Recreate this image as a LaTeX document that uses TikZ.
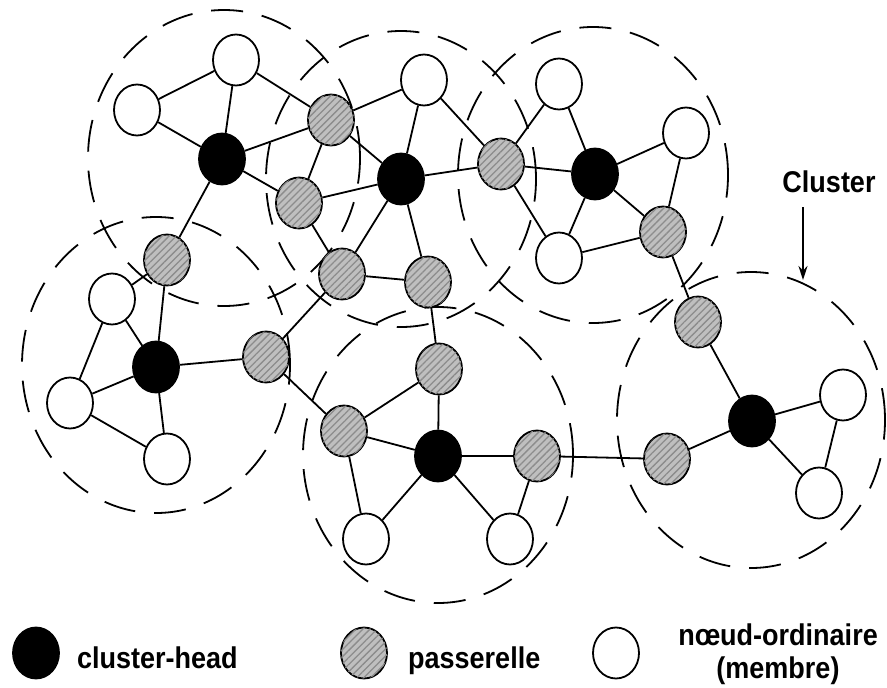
\documentclass[tikz,border=0pt]{standalone}
\usepackage{fontspec}
\newfontfamily\legfont{Liberation Sans}[FakeStretch=0.9]
\usetikzlibrary{shapes.geometric,patterns.meta,arrows.meta}

\begin{document}
\begin{tikzpicture}[x=1pt,y=-1pt,
    dot/.style={ellipse,draw,line width=1.8pt,minimum width=46pt,minimum height=51pt,inner sep=0pt},
    head/.style={dot,fill=black},
    gate/.style={dot,fill=gray!50,
        postaction={pattern={Lines[angle=45,distance=5pt,line width=1.3pt]},pattern color=gray!90}},
    memb/.style={dot,fill=white},
    link/.style={line width=1.8pt},
    zone/.style={line width=1.8pt,dash pattern=on 32pt off 19pt},
    legtext/.style={font=\legfont\bfseries\fontsize{30}{32}\selectfont,inner sep=0pt}]
    \useasboundingbox (0,0) rectangle (887,688);

    % clusters
    \draw[zone] (224,158) ellipse [x radius=136pt, y radius=148pt];
    \draw[zone] (401,179) ellipse [x radius=135pt, y radius=148pt];
    \draw[zone] (593,175) ellipse [x radius=135pt, y radius=148pt];
    \draw[zone] (156,365) ellipse [x radius=134pt, y radius=148pt];
    \draw[zone] (438,455) ellipse [x radius=135pt, y radius=148pt];
    \draw[zone] (751,420) ellipse [x radius=134pt, y radius=148pt];

    % cluster-heads
    \node[head] (ch1) at (222,159) {};
    \node[head] (ch2) at (401,179) {};
    \node[head] (ch3) at (595,174) {};
    \node[head] (ch4) at (156,367) {};
    \node[head] (ch5) at (438,456) {};
    \node[head] (ch6) at (752,421) {};

    % passerelles
    \node[gate] (gw1) at (331,120) {};
    \node[gate] (gw2) at (299,203) {};
    \node[gate] (gw3) at (167,260) {};
    \node[gate] (gw4) at (342,274) {};
    \node[gate] (gw5) at (428,282) {};
    \node[gate] (gw6) at (501,164) {};
    \node[gate] (gw7) at (663,232) {};
    \node[gate] (gw8) at (698,322) {};
    \node[gate] (gw9) at (266,357) {};
    \node[gate] (gw10) at (439,369) {};
    \node[gate] (gw11) at (344,431) {};
    \node[gate] (gw12) at (537,456) {};
    \node[gate] (gw13) at (667,459) {};

    % membres
    \node[memb] (m1) at (236,60) {};
    \node[memb] (m2) at (137,110) {};
    \node[memb] (m3) at (424,80) {};
    \node[memb] (m4) at (559,84) {};
    \node[memb] (m5) at (686,133) {};
    \node[memb] (m6) at (559,258) {};
    \node[memb] (m7) at (112,299) {};
    \node[memb] (m8) at (70,403) {};
    \node[memb] (m9) at (167,459) {};
    \node[memb] (m10) at (366,539) {};
    \node[memb] (m11) at (510,539) {};
    \node[memb] (m12) at (843,395) {};
    \node[memb] (m13) at (819,493) {};

    % links
    \foreach \a/\b in {ch1/m1,ch1/m2,ch1/gw1,ch1/gw2,ch1/gw3,m2/m1,m1/gw1,
        gw1/m3,gw1/ch2,gw1/gw2,gw2/ch2,gw2/gw4,ch2/m3,ch2/gw4,ch2/gw5,ch2/gw6,
        gw4/gw5,gw3/m7,gw3/ch4,m3/gw6,gw6/m4,gw6/ch3,gw6/m6,
        ch3/m4,ch3/m5,ch3/m6,ch3/gw7,m5/gw7,m6/gw7,gw7/gw8,
        ch4/m7,ch4/m8,ch4/m9,ch4/gw9,m7/m8,m8/m9,gw9/gw4,gw9/gw11,
        gw5/gw10,gw11/gw10,gw11/ch5,gw11/m10,gw10/ch5,
        ch5/m10,ch5/m11,ch5/gw12,gw12/m11,gw12/gw13,
        gw13/ch6,gw8/ch6,ch6/m12,ch6/m13,m12/m13}
        \draw[link] (\a) -- (\b);

    % label
    \node[legtext] (clab) at (829,182) {Cluster};
    \coordinate (ctail) at (803,207);
    \coordinate (ctip) at (803,280);
    \draw[line width=1.8pt,-{Stealth[length=14pt,width=9pt]}] (ctail) -- (ctip);

    % legend
    \node[head] (kh) at (36,653) {};
    \node[gate] (kg) at (364,653) {};
    \node[memb] (km) at (616,653) {};
    \node[legtext,anchor=base west] (th) at (77,668) {cluster-head};
    \node[legtext,anchor=base west] (tg) at (408,668) {passerelle};
    \node[legtext,anchor=base] (tm1) at (778,645) {n\oe ud-ordinaire};
    \node[legtext,anchor=base] (tm2) at (778,678) {(membre)};
\end{tikzpicture}
\end{document}
